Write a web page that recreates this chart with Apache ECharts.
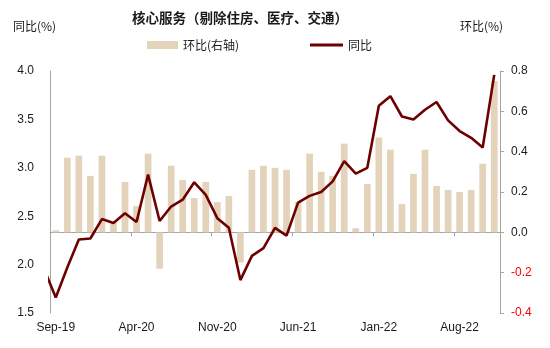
<!DOCTYPE html>
<html>
<head>
<meta charset="utf-8">
<script src="https://cdn.jsdelivr.net/npm/echarts@6/dist/echarts.min.js"></script>
<style>
  html, body { margin: 0; padding: 0; background: #fff; }
  #chart { width: 550px; height: 348px; }
</style>
</head>
<body>
<div id="chart"></div>
<script>
// Monthly labels, Aug-19 .. Nov-22 (Aug-19 only feeds the first line segment)
const months = [
  'Aug-19',
  'Sep-19','Oct-19','Nov-19','Dec-19','Jan-20','Feb-20','Mar-20','Apr-20','May-20','Jun-20',
  'Jul-20','Aug-20','Sep-20','Oct-20','Nov-20','Dec-20','Jan-21','Feb-21','Mar-21','Apr-21',
  'May-21','Jun-21','Jul-21','Aug-21','Sep-21','Oct-21','Nov-21','Dec-21','Jan-22','Feb-22',
  'Mar-22','Apr-22','May-22','Jun-22','Jul-22','Aug-22','Sep-22','Oct-22','Nov-22'
];

// Year-over-year, % (left axis), Aug-19 .. Nov-22
const yoy = [
  1.95,
  1.66, 1.97, 2.26, 2.27, 2.47, 2.43, 2.53, 2.44, 2.93, 2.45,
  2.60, 2.67, 2.85, 2.72, 2.48, 2.38, 1.84, 2.09, 2.17, 2.38,
  2.30, 2.64, 2.71, 2.75, 2.86, 3.07, 2.94, 3.00, 3.64, 3.74,
  3.53, 3.50, 3.60, 3.68, 3.49, 3.38, 3.31, 3.21, 3.96
];

// Month-over-month, % (right axis), Sep-19 .. Nov-22
const mom = [
  0.01, 0.37, 0.38, 0.28, 0.38, 0.05, 0.25, 0.13, 0.39, -0.18,
  0.33, 0.26, 0.17, 0.25, 0.15, 0.18, -0.15, 0.31, 0.33, 0.32,
  0.31, 0.15, 0.39, 0.30, 0.28, 0.44, 0.02, 0.24, 0.47, 0.41,
  0.14, 0.29, 0.41, 0.23, 0.21, 0.20, 0.21, 0.34, 0.75
];

const barMonths = months.slice(1);
const leftTicks = { min: 1.5, max: 4.0, step: 0.5 };
const rightTicks = { min: -0.4, max: 0.8, step: 0.2 };

const FONT = '"Liberation Sans", Arial, "Noto Sans CJK SC", sans-serif';
const CJK = '"Noto Sans CJK SC", "Liberation Sans", sans-serif';
const AXIS_GREY = '#a6a6a6';
const BAR_COLOR = '#e3d3bb';
const LINE_COLOR = '#6e0000';
const legendText = { fontFamily: CJK, fontSize: 12, color: '#1a1a1a' };

const chart = echarts.init(document.getElementById('chart'), null, { renderer: 'canvas' });

chart.setOption({
  animation: false,
  backgroundColor: '#ffffff',
  title: {
    text: '核心服务（剔除住房、医疗、交通）',
    left: 127,
    top: 6,
    textStyle: { fontFamily: CJK, fontSize: 13.5, fontWeight: 'bold', color: '#1a1a1a' }
  },
  graphic: [
    { type: 'text', left: 13, top: 20,
      style: { text: '同比(%)', font: '12px ' + CJK, fill: '#1a1a1a' } },
    { type: 'text', left: 460, top: 20,
      style: { text: '环比(%)', font: '12px ' + CJK, fill: '#1a1a1a' } }
  ],
  legend: [
    {
      left: 142, top: 34,
      itemWidth: 31, itemHeight: 8,
      icon: 'rect',
      textStyle: legendText,
      data: ['环比(右轴)']
    },
    {
      left: 305, top: 34,
      itemWidth: 33, itemHeight: 3,
      icon: 'rect',
      textStyle: legendText,
      data: ['同比']
    }
  ],
  grid: { left: 50, right: 50, top: 71, bottom: 35, containLabel: false },
  xAxis: [
    {
      type: 'category',
      data: barMonths,
      boundaryGap: true,
      axisLine: { lineStyle: { color: AXIS_GREY, width: 1 } },
      axisTick: { show: true, interval: 6, alignWithLabel: false, length: 4,
                  lineStyle: { color: AXIS_GREY } },
      axisLabel: { interval: 6, margin: 9, fontFamily: FONT, fontSize: 12, color: '#1a1a1a' },
      splitLine: { show: false }
    },
    {
      type: 'value',
      min: 0.5,
      max: months.length - 0.5,
      show: false
    }
  ],
  yAxis: [
    {
      type: 'value',
      min: leftTicks.min,
      max: leftTicks.max,
      interval: leftTicks.step,
      position: 'left',
      axisLine: { show: true, lineStyle: { color: AXIS_GREY } },
      axisTick: { show: false },
      splitLine: { show: false },
      axisLabel: { margin: 16, fontFamily: FONT, fontSize: 12, color: '#1a1a1a',
                   formatter: v => v.toFixed(1) }
    },
    {
      type: 'value',
      min: rightTicks.min,
      max: rightTicks.max,
      interval: rightTicks.step,
      position: 'right',
      axisLine: { show: true, lineStyle: { color: AXIS_GREY } },
      axisTick: { show: true, length: 4, lineStyle: { color: AXIS_GREY } },
      splitLine: { show: false },
      axisLabel: { margin: 11, fontFamily: FONT, fontSize: 12,
                   color: v => (Number(v) < 0 ? '#ff0000' : '#1a1a1a'),
                   formatter: v => v.toFixed(1) }
    }
  ],
  series: [
    {
      name: '环比(右轴)',
      type: 'bar',
      xAxisIndex: 0,
      yAxisIndex: 1,
      data: mom,
      barWidth: 6.7,
      itemStyle: { color: BAR_COLOR },
      z: 1
    },
    {
      name: '同比',
      type: 'line',
      xAxisIndex: 1,
      yAxisIndex: 0,
      data: yoy.map((v, i) => [i, v]),
      symbol: 'none',
      clip: true,
      lineStyle: { color: LINE_COLOR, width: 2.6 },
      itemStyle: { color: LINE_COLOR },
      z: 3
    }
  ]
});
</script>
</body>
</html>
